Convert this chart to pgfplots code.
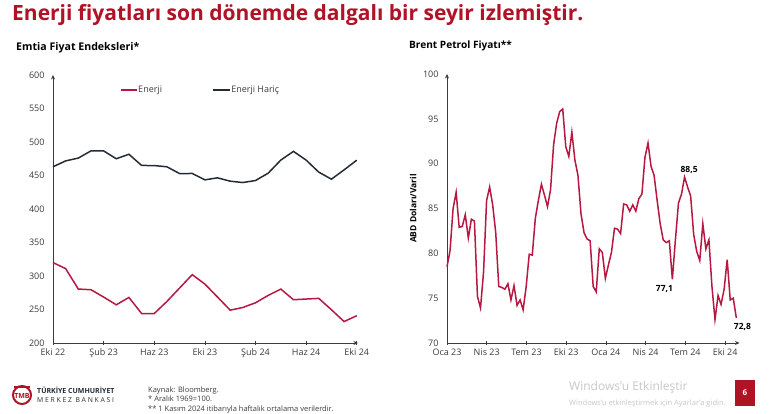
\documentclass[border=0pt]{standalone}
\usepackage{fontspec}
\setmainfont{Open Sans}
\usepackage{pgfplots}
\pgfplotsset{compat=1.18}
\usetikzlibrary{arrows.meta}
\definecolor{tred}{RGB}{176,18,38}
\definecolor{ered}{RGB}{183,24,66}
\definecolor{edark}{RGB}{35,44,54}
\definecolor{tgray}{RGB}{60,60,60}
\definecolor{wm}{RGB}{200,200,200}
\pgfplotsset{
  mystyle/.style={
    scale only axis,
    axis lines=left,
    axis line style={tgray,line width=0.7pt,-{Stealth[length=4.5pt,width=4pt]}},
    tick label style={font=\fontsize{9}{10}\selectfont, text=tgray},
    /pgf/number format/assume math mode=true,
    ytick style={draw=none},
    xtick style={tgray,line width=0.5pt},
    tick align=center,
    major tick length=4pt,
    yticklabel style={xshift=-3pt},
    clip=false,
  }
}
\begin{document}
\begin{tikzpicture}[x=1pt,y=1pt]
\useasboundingbox (0,0) rectangle (770,414);
\fill[white] (0,0) rectangle (770,414);
\begin{scope}
\clip (0,0) rectangle (770,414);
\node[anchor=base west, font=\fontsize{21}{22}\selectfont\bfseries, text=tred, inner sep=0] at (12,393) {Enerji fiyatları son dönemde dalgalı bir seyir izlemiştir.};
\node[anchor=base west, font=\fontsize{10.6}{11}\selectfont\bfseries, text=black, inner sep=0] at (16,363.5) {Emtia Fiyat Endeksleri*};
\node[anchor=base west, font=\fontsize{10.1}{11}\selectfont\bfseries, text=black, inner sep=0] at (409,365.7) {Brent Petrol Fiyatı**};

% Left chart
\begin{axis}[mystyle,
  at={(53pt,71pt)}, anchor=south west,
  width=305pt, height=268pt,
  xmin=0, xmax=24.1, ymin=200, ymax=600,
  xtick={0,4,8,12,16,20,24},
  xticklabels={Eki 22,Şub 23,Haz 23,Eki 23,Şub 24,Haz 24,Eki 24},
  ytick={200,250,300,350,400,450,500,550,600},
]
\addplot[ered, line width=1.5pt] coordinates {
(0,320) (1,311) (2,280.5) (3,279.5) (4,268.6) (5,257) (6,268) (7,244) (8,244)
(9,262) (10,282) (11,302) (12,288) (13,268.6) (14,249) (15,253) (16,260)
(17,271) (18,280.5) (19,264.6) (20,265.6) (21,266.6) (22,249.6) (23,232) (24,240.7)};
\addplot[edark, line width=1.5pt] coordinates {
(0,463) (1,471.8) (2,476) (3,486.7) (4,486.7) (5,475) (6,481.7) (7,465) (8,464.8)
(9,463) (10,452.9) (11,453) (12,443.5) (13,446.5) (14,441.5) (15,439.5) (16,442.5)
(17,453.4) (18,473) (19,486) (20,473) (21,455) (22,444.5) (23,458.4) (24,472.8)};
% legend
\draw[ered, line width=1.5pt] (axis cs:5.37,577.6) -- (axis cs:6.64,577.6);
\node[anchor=west, inner sep=0, font=\fontsize{9}{10}\selectfont, text=tgray] at (axis cs:6.72,577.6) {Enerji};
\draw[edark, line width=1.5pt] (axis cs:12.64,577.6) -- (axis cs:13.99,577.6);
\node[anchor=west, inner sep=0, font=\fontsize{9}{10}\selectfont, text=tgray] at (axis cs:14.07,577.6) {Enerji Hariç};
\end{axis}

% Right chart
\begin{axis}[mystyle,
  at={(447pt,71pt)}, anchor=south west,
  width=292.5pt, height=269pt,
  xmin=0, xmax=96.05, ymin=70, ymax=100,
  xtick={0,13.04,26.09,39.13,52.18,65.22,78.27,91.31},
  xticklabels={Oca 23,Nis 23,Tem 23,Eki 23,Oca 24,Nis 24,Tem 24,Eki 24},
  ytick={70,75,80,85,90,95,100},
  ylabel={ABD Doları/Varil},
  ylabel style={font=\fontsize{8.5}{9}\selectfont\bfseries, text=black, at={(axis description cs:-0.116,0.5)}, anchor=center},
]
\addplot[ered, line width=1.5pt] coordinates {
(0,78.5) (1,80.3) (2,85.0) (3,86.8) (4,82.9) (5,83.0) (6,84.3) (7,81.7) (8,83.8) (9,83.6)
(10,75.2) (11,73.9) (12,77.9) (13,85.9) (14,87.4) (15,85.4) (16,82.3) (17,76.3) (18,76.2) (19,76.0)
(20,76.6) (21,74.8) (22,76.4) (23,74.2) (24,74.8) (25,73.7) (26,76.3) (27,79.9) (28,79.8) (29,83.9)
(30,85.9) (31,87.7) (32,86.5) (33,85.2) (34,87.1) (35,92.1) (36,94.5) (37,95.8) (38,96.1) (39,91.9)
(40,90.8) (41,93.5) (42,90.4) (43,88.7) (44,84.4) (45,82.3) (46,81.6) (47,81.4) (48,76.3) (49,75.7)
(50,80.5) (51,80.1) (52,77.2) (53,78.7) (54,80.1) (55,82.8) (56,82.7) (57,82.2) (58,85.5) (59,85.4)
(60,84.7) (61,85.4) (62,84.7) (63,86.1) (64,86.6) (65,90.7) (66,92.3) (67,89.7) (68,88.7) (69,85.9)
(70,83.3) (71,81.5) (72,81.2) (73,81.4) (74,77.1) (75,81.5) (76,85.6) (77,86.6) (78,88.5) (79,87.4)
(80,86.4) (81,82.1) (82,80.2) (83,79.2) (84,83.3) (85,80.5) (86,81.5) (87,76.3) (88,72.6) (89,75.3)
(90,74.3) (91,76.0) (92,79.3) (93,74.8) (94,75.0) (95,72.8)};
\node[font=\fontsize{8.5}{9}\selectfont\bfseries] at (axis cs:79.5,89.3) {88,5};
\node[font=\fontsize{8.5}{9}\selectfont\bfseries] at (axis cs:71.4,76.0) {77,1};
\node[font=\fontsize{8.5}{9}\selectfont\bfseries] at (axis cs:97.0,71.8) {72,8};
\end{axis}

% Footer
\draw[tred, line width=2pt] (22,19) circle (9);
\draw[tred, line width=1.2pt] (14,27) -- (30,27);
\node[text=tred, font=\fontsize{7}{7}\selectfont\bfseries, inner sep=0] at (22,18) {TMB};
\node[anchor=base west, inner sep=0, font=\fontsize{7}{7}\selectfont\bfseries, text=edark] at (37,20.5) {TÜRKİYE CUMHURİYET};
\node[anchor=base west, inner sep=0, font=\fontsize{6.8}{7}\selectfont, text=edark] at (37,11.5) {M E R K E Z \ B A N K A S I};
\node[anchor=base west, inner sep=0, font=\fontsize{7.5}{8}\selectfont, text=tgray] at (148,21.5) {Kaynak: Bloomberg.};
\node[anchor=base west, inner sep=0, font=\fontsize{7.5}{8}\selectfont, text=tgray] at (148,12) {* Aralık 1969=100.};
\node[anchor=base west, inner sep=0, font=\fontsize{7.5}{8}\selectfont, text=tgray] at (148,2.5) {** 1 Kasım 2024 itibarıyla haftalık ortalama verilerdir.};
\fill[tred] (735,8) rectangle (755,34);
\node[text=white, font=\fontsize{8}{9}\selectfont\bfseries] at (745,21) {6};
\node[anchor=base west, inner sep=0, font=\fontsize{12}{13}\selectfont, text=wm] at (569,23) {Windows'u Etkinleştir};
\node[anchor=base west, inner sep=0, font=\fontsize{7.5}{8}\selectfont, text=wm] at (569,8) {Windows'u etkinleştirmek için Ayarlar'a gidin.};
\end{scope}
\end{tikzpicture}
\end{document}
